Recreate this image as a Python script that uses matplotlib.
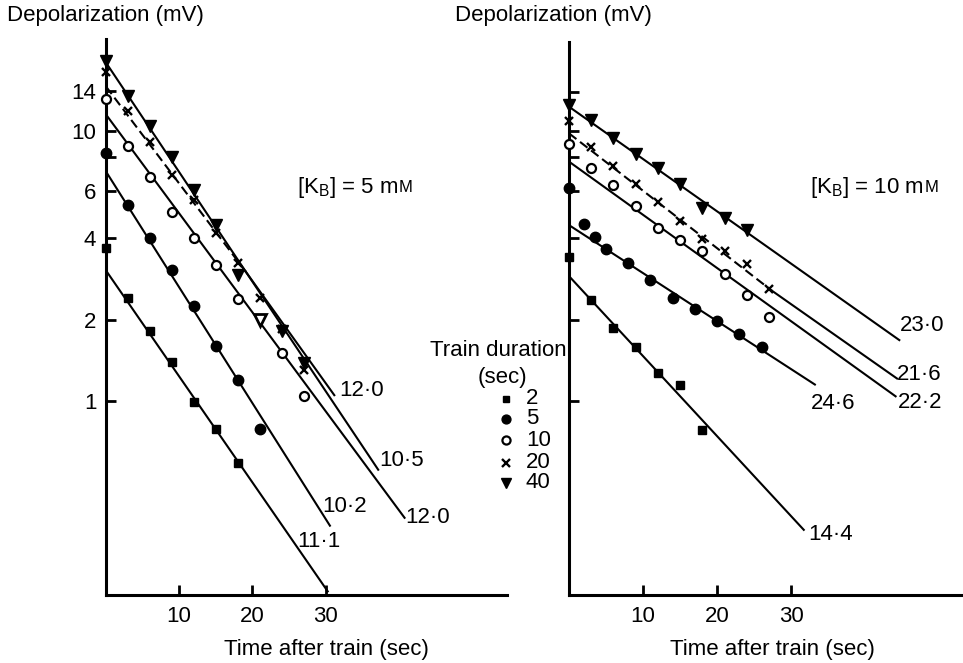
import matplotlib
matplotlib.use('Agg')
import matplotlib.pyplot as plt
from matplotlib.ticker import NullLocator
from matplotlib.offsetbox import TextArea, HPacker, AnchoredOffsetbox

plt.rcParams['font.family'] = ['Liberation Sans', 'DejaVu Sans']
plt.rcParams['mathtext.fontset'] = 'custom'
plt.rcParams['mathtext.rm'] = 'Liberation Sans'
plt.rcParams['font.size'] = 16

# ---------------- values ----------------
# [K_B] = 5 mM : time after train (sec) and depolarization (mV)
a2_t = [0, 3, 6, 9, 12, 15, 18]
a2_v = [3.68, 2.40, 1.81, 1.39, 0.99, 0.785, 0.59]
a5_t = [0, 3, 6, 9, 12, 15, 18, 21]
a5_v = [8.27, 5.32, 4.00, 3.06, 2.24, 1.60, 1.19, 0.79]
a10_t = [0, 3, 6, 9, 12, 15, 18, 24, 27]
a10_v = [13.1, 8.80, 6.77, 5.02, 4.00, 3.19, 2.38, 1.51, 1.04]
a20_t = [0, 3, 6, 9, 12, 15, 18, 21, 24, 27]
a20_v = [16.5, 11.9, 9.08, 6.87, 5.55, 4.18, 3.24, 2.40, 1.85, 1.30]
a40_t = [0, 3, 6, 9, 12, 15, 18, 24, 27]
a40_v = [18.1, 13.5, 10.4, 8.03, 6.04, 4.48, 2.93, 1.81, 1.38]
a40_hollow_t = [21]   # printed as an open triangle
a40_hollow_v = [2.00]

# fitted exponentials (straight on the log axis): [t start, v start, t end, v end]
a2_fit = [0, 3.04, 30.3, 0.197]
a5_fit = [0, 7.07, 30.6, 0.345]
a10_fit = [0, 11.5, 40.8, 0.369]
a20_fit = [0, 14.6, 31.2, 1.05]
a40_fit = [0, 17.9, 37.2, 0.556]
a20_dash_end = [19.1, 3.01]   # the 20 sec line is dashed up to here

# time constants (sec) written beside the lines
a_tau = ['11·1', '10·2', '12·0', '12·0', '10·5']
a_tau_t = [29.1, 32.6, 44.0, 34.9, 40.4]
a_tau_v = [0.301, 0.406, 0.371, 1.09, 0.60]

# [K_B] = 10 mM
b2_t = [0, 3, 6, 9, 12, 15, 18]
b2_v = [3.42, 2.37, 1.87, 1.59, 1.27, 1.15, 0.78]
b5_t = [0, 2, 3.5, 5, 8, 11, 14, 17, 20, 23, 26]
b5_v = [6.13, 4.53, 4.06, 3.65, 3.24, 2.81, 2.40, 2.19, 1.98, 1.77, 1.59]
b10_t = [0, 3, 6, 9, 12, 15, 18, 21, 24, 27]
b10_v = [8.95, 7.27, 6.31, 5.28, 4.38, 3.96, 3.60, 2.95, 2.47, 2.05]
b20_t = [0, 3, 6, 9, 12, 15, 18, 21, 24, 27]
b20_v = [10.9, 8.70, 7.42, 6.36, 5.47, 4.65, 3.97, 3.60, 3.22, 2.59]
b40_t = [0, 3, 6, 9, 12, 15, 18, 21, 24]
b40_v = [12.5, 11.0, 9.40, 8.22, 7.28, 6.36, 5.17, 4.75, 4.30]

b2_fit = [0, 2.90, 31.7, 0.333]
b5_fit = [0, 4.48, 33.2, 1.15]
b10_fit = [0, 7.70, 44.1, 1.04]
b20_fit = [0, 9.80, 44.3, 1.21]
b40_fit = [0, 12.3, 44.6, 1.68]
b20_dash_end = [27.4, 2.56]

b_tau = ['14·4', '24·6', '22·2', '21·6', '23·0']
b_tau_t = [35.3, 35.6, 47.4, 47.3, 47.7]
b_tau_v = [0.319, 0.975, 0.986, 1.25, 1.91]

durations = ['2', '5', '10', '20', '40']
y_ticks = [1, 2, 4, 6, 8, 10, 14]
a_ytick_labels = ['1', '2', '4', '6', '', '10', '14']

# marker for each train duration
styles = [dict(marker='s', ms=5.5, mfc='k', mec='k'),
          dict(marker='o', ms=7.5, mfc='k', mec='k'),
          dict(marker='o', ms=6.5, mfc='white', mec='k', mew=1.6),
          dict(marker='x', ms=6, mec='k', mew=1.7),
          dict(marker='v', ms=8.5, mfc='k', mec='k')]

W, H = 963, 663
fig = plt.figure(figsize=(W / 100, H / 100), dpi=100)
# panel boxes in pixels: left, top, right, bottom
ax_a = fig.add_axes([106 / W, 1 - 595 / H, 401 / W, 556 / H])
ax_b = fig.add_axes([569 / W, 1 - 595 / H, 394 / W, 553 / H])

panels = [
    (ax_a, [(a2_t, a2_v), (a5_t, a5_v), (a10_t, a10_v), (a20_t, a20_v), (a40_t, a40_v)],
     [a2_fit, a5_fit, a10_fit, a20_fit, a40_fit], a20_dash_end,
     a_tau, a_tau_t, a_tau_v, (0, 54.8), (0.191, 21.9), a_ytick_labels),
    (ax_b, [(b2_t, b2_v), (b5_t, b5_v), (b10_t, b10_v), (b20_t, b20_v), (b40_t, b40_v)],
     [b2_fit, b5_fit, b10_fit, b20_fit, b40_fit], b20_dash_end,
     b_tau, b_tau_t, b_tau_v, (0, 53.2), (0.191, 21.36), [''] * len(y_ticks)),
]

for ax, series, fits, dash_end, taus, tau_t, tau_v, xlim, ylim, ylabels in panels:
    ax.set_yscale('log')
    for i, (fit, (t, v)) in enumerate(zip(fits, series)):
        if i == 3:
            # 20 sec: dashed through the points, solid beyond
            ax.plot([fit[0], dash_end[0]], [fit[1], dash_end[1]], color='k', lw=1.5,
                    dashes=(4.5, 2.2), solid_capstyle='butt')
            ax.plot([dash_end[0], fit[2]], [dash_end[1], fit[3]], color='k', lw=1.5)
        else:
            ax.plot([fit[0], fit[2]], [fit[1], fit[3]], color='k', lw=1.5)
        ax.plot(t, v, ls='none', clip_on=False, zorder=3, **styles[i])
    for s, tt, vv in zip(taus, tau_t, tau_v):
        ax.text(tt, vv, s, ha='center', va='center', fontsize=16)

    ax.set_xlim(*xlim)
    ax.set_ylim(*ylim)
    ax.set_yticks(y_ticks)
    ax.set_yticklabels(ylabels)
    ax.yaxis.set_minor_locator(NullLocator())
    ax.set_xticks([10, 20, 30])
    ax.set_xticklabels(['10', '20', '30'])
    ax.tick_params(direction='in', length=7.5, width=2, labelsize=16)
    ax.tick_params(axis='y', pad=7)
    ax.tick_params(axis='x', pad=8)
    for side in ['top', 'right']:
        ax.spines[side].set_visible(False)
    for side in ['left', 'bottom']:
        ax.spines[side].set_linewidth(2.2)
    ax.patch.set_alpha(0)

ax_a.plot(a40_hollow_t, a40_hollow_v, ls='none', marker='v', ms=9, mfc='white',
          mec='k', mew=2, zorder=4)

# text and key in pixel coordinates
over = fig.add_axes([0, 0, 1, 1])
over.set_xlim(0, W)
over.set_ylim(H, 0)
over.axis('off')

over.text(7, 15, 'Depolarization (mV)', ha='left', va='center', fontsize=16)
over.text(455, 15, 'Depolarization (mV)', ha='left', va='center', fontsize=16)
over.text(326, 650, 'Time after train (sec)', ha='center', va='center', fontsize=16)
over.text(772, 650, 'Time after train (sec)', ha='center', va='center', fontsize=16)

for x0, conc in [(297, '5'), (810, '10')]:
    box = HPacker(children=[TextArea(r'[K$_\mathregular{B}$] = ' + conc + ' m',
                                     textprops=dict(fontsize=16)),
                            TextArea('M', textprops=dict(fontsize=12))],
                  align='baseline', pad=0, sep=0.5)
    over.add_artist(AnchoredOffsetbox(loc='center left', child=box, pad=0, borderpad=0,
                                      frameon=False, bbox_to_anchor=(x0, 187),
                                      bbox_transform=over.transData))

over.text(498, 351, 'Train duration', ha='center', va='center', fontsize=16)
over.text(502, 378, '(sec)', ha='center', va='center', fontsize=16)
key_y = [399, 419, 440, 463, 483]
key_sizes = [0.85, 0.85, 0.9, 0.85, 0.85]
for i, (lab, yy) in enumerate(zip(durations, key_y)):
    st = dict(styles[i])
    st['ms'] = st['ms'] * key_sizes[i]
    over.plot([506], [yy], ls='none', **st)
    over.text(526, yy, lab, ha='left', va='center', fontsize=16)

fig.savefig('out.png', dpi=100)
